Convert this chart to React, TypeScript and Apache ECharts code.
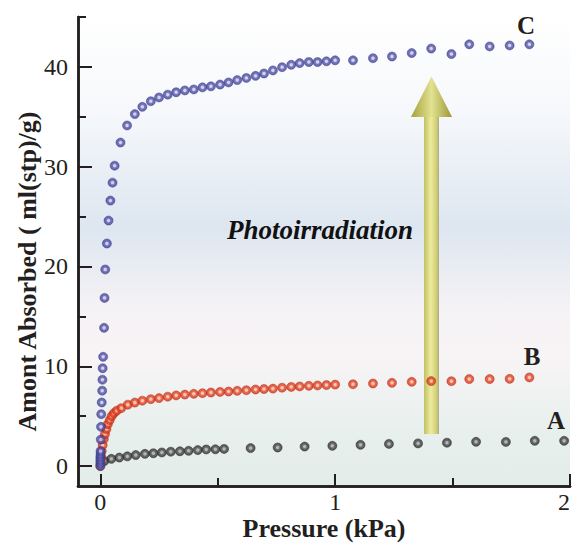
import React, { useEffect, useRef } from "react";
import * as echarts from "echarts";

// Curve A (before irradiation)
const pressureA = [0.017, 0.047, 0.081, 0.115, 0.151, 0.19, 0.226, 0.262, 0.3, 0.339, 0.376, 0.415, 0.451, 0.49, 0.527, 0.64, 0.755, 0.87, 0.988, 1.108, 1.229, 1.353, 1.476, 1.6, 1.727, 1.85, 1.975];
const amountA = [0.5, 0.72, 0.85, 0.97, 1.1, 1.22, 1.28, 1.36, 1.44, 1.48, 1.53, 1.6, 1.66, 1.68, 1.72, 1.8, 1.86, 1.95, 2.03, 2.13, 2.22, 2.27, 2.34, 2.43, 2.42, 2.53, 2.53];

// Curve B
const pressureB = [0, 0.002, 0.004, 0.006, 0.01, 0.015, 0.02, 0.026, 0.032, 0.04, 0.048, 0.058, 0.07, 0.089, 0.117, 0.147, 0.179, 0.215, 0.25, 0.287, 0.323, 0.36, 0.398, 0.435, 0.471, 0.51, 0.546, 0.583, 0.622, 0.661, 0.697, 0.735, 0.774, 0.813, 0.849, 0.888, 0.925, 0.963, 1.0, 1.076, 1.161, 1.242, 1.326, 1.409, 1.495, 1.571, 1.658, 1.743, 1.827];
const amountB = [0.0, 0.4, 0.9, 1.5, 2.1, 2.7, 3.2, 3.7, 4.2, 4.6, 5.0, 5.3, 5.55, 5.8, 6.15, 6.36, 6.55, 6.7, 6.81, 6.95, 7.08, 7.16, 7.24, 7.3, 7.37, 7.43, 7.47, 7.54, 7.6, 7.67, 7.72, 7.76, 7.85, 7.93, 7.98, 8.04, 8.08, 8.12, 8.16, 8.2, 8.27, 8.34, 8.44, 8.51, 8.5, 8.72, 8.72, 8.74, 8.88];

// Curve C (after photoirradiation)
const pressureC = [0, 0, 0, 0, 0.001, 0.001, 0.002, 0.003, 0.004, 0.006, 0.008, 0.009, 0.01, 0.012, 0.016, 0.018, 0.021, 0.028, 0.035, 0.043, 0.052, 0.061, 0.086, 0.114, 0.147, 0.179, 0.215, 0.25, 0.287, 0.323, 0.36, 0.398, 0.435, 0.471, 0.51, 0.546, 0.583, 0.622, 0.661, 0.697, 0.735, 0.774, 0.813, 0.849, 0.888, 0.925, 0.963, 1.0, 1.076, 1.161, 1.242, 1.326, 1.409, 1.495, 1.571, 1.658, 1.743, 1.827];
const amountC = [0.0, 0.3, 0.6, 0.9, 1.2, 1.5, 2.65, 3.93, 5.2, 6.37, 7.55, 8.65, 9.8, 10.95, 13.85, 16.85, 19.7, 22.3, 24.6, 26.6, 28.4, 30.1, 32.42, 34.13, 35.27, 36.0, 36.56, 36.94, 37.22, 37.46, 37.64, 37.74, 37.95, 38.05, 38.23, 38.44, 38.68, 38.89, 39.1, 39.34, 39.65, 39.97, 40.21, 40.38, 40.49, 40.49, 40.56, 40.66, 40.66, 40.87, 41.04, 41.39, 41.84, 41.29, 42.26, 42.05, 42.15, 42.26];

const xMajorTicks = [0, 1, 2];
const xMinorTicks = [0.5, 1.5];
const yMajorTicks = [0, 10, 20, 30, 40];
const yMinorTicks = [5, 15, 25, 35, 45];

const SERIF = "'Liberation Serif', 'Times New Roman', serif";
const INK = "#231f20";

const zip = (xs: number[], ys: number[]) => xs.map((x, i) => [x, ys[i]]);

const ball = (light: string, mid: string, dark: string) =>
  new echarts.graphic.RadialGradient(0.5, 0.5, 0.5, [
    { offset: 0, color: light },
    { offset: 0.25, color: light },
    { offset: 0.5, color: mid },
    { offset: 1, color: dark },
  ]);

function makeX(ticks: number[], len: number, labels: boolean): any {
  return {
    type: "value",
    min: -0.095,
    max: 2,
    position: "bottom",
    axisLine: { show: true, onZero: false, lineStyle: { color: INK, width: 2.5 } },
    axisTick: { show: true, inside: true, length: len, customValues: ticks, lineStyle: { color: INK, width: 2 } },
    axisLabel: labels
      ? { show: true, customValues: ticks, fontSize: 24, lineHeight: 20, fontFamily: SERIF, color: INK, margin: 6, hideOverlap: false, alignMaxLabel: "right" }
      : { show: false },
    splitLine: { show: false },
  };
}

function makeY(ticks: number[], len: number, labels: boolean): any {
  return {
    type: "value",
    min: -2,
    max: 45,
    position: "left",
    axisLine: { show: true, onZero: false, lineStyle: { color: INK, width: 2.5 } },
    axisTick: { show: true, inside: true, length: len, customValues: ticks, lineStyle: { color: INK, width: 2 } },
    axisLabel: labels
      ? { show: true, customValues: ticks, fontSize: 24, fontFamily: SERIF, color: INK, margin: 10 }
      : { show: false },
    splitLine: { show: false },
  };
}

export default function App() {
  const ref = useRef<HTMLDivElement>(null);
  useEffect(() => {
    document.body.style.margin = "0";
    const chart = echarts.init(ref.current!, null, { renderer: "svg" });
    const x0 = makeX(xMajorTicks, 12, true);
    x0.name = "Pressure (kPa)";
    x0.nameLocation = "middle";
    x0.nameGap = 29;
    x0.nameMoveOverlap = false;
    x0.nameTextStyle = { fontSize: 26, fontWeight: "bold", fontFamily: SERIF, color: INK, lineHeight: 26 };
    const y0 = makeY(yMajorTicks, 14, true);
    y0.name = "Amont Absorbed ( ml(stp)/g)";
    y0.nameLocation = "middle";
    y0.nameGap = 38;
    y0.nameMoveOverlap = false;
    y0.nameTextStyle = { fontSize: 26, fontWeight: "bold", fontFamily: SERIF, color: INK, padding: [0, 40, 0, 0] };

    const option: any = {
      animation: false,
      grid: {
        left: 78,
        right: 4,
        top: 17,
        bottom: 58,
        containLabel: false,
        outerBoundsMode: "none",
        show: true,
        borderWidth: 0,
        backgroundColor: new echarts.graphic.LinearGradient(0, 0, 0, 1, [
          { offset: 0, color: "#ffffff" },
          { offset: 0.2, color: "#f6f8fb" },
          { offset: 0.45, color: "#dde6f0" },
          { offset: 0.62, color: "#f5f2f5" },
          { offset: 0.72, color: "#f8f4f6" },
          { offset: 0.88, color: "#e8f0ee" },
          { offset: 1, color: "#e2ece8" },
        ]),
      },
      xAxis: [x0, makeX(xMinorTicks, 8, false)],
      yAxis: [y0, makeY(yMinorTicks, 8, false)],
      graphic: [
        {
          type: "rect",
          z: 1,
          shape: { x: 424, y: 116, width: 15, height: 318 },
          style: {
            fill: new echarts.graphic.LinearGradient(0, 0, 1, 0, [
              { offset: 0, color: "#c2bf62" },
              { offset: 0.45, color: "#ecec9e" },
              { offset: 0.85, color: "#cfcc72" },
              { offset: 1, color: "#a9a98a" },
            ]),
          },
        },
        {
          type: "polygon",
          z: 1,
          shape: { points: [[431.5, 76.5], [452, 117], [411, 117]] },
          style: {
            fill: new echarts.graphic.LinearGradient(0, 0, 1, 0, [
              { offset: 0, color: "#a6a13f" },
              { offset: 0.5, color: "#e2e290" },
              { offset: 1, color: "#9c9737" },
            ]),
          },
        },
        {
          type: "text",
          z: 3,
          x: 320,
          y: 230,
          style: {
            text: "Photoirradiation",
            fontSize: 27,
            fontWeight: "bold",
            fontStyle: "italic",
            fontFamily: SERIF,
            fill: "#111",
            align: "center",
            verticalAlign: "middle",
          },
        },
        {
          type: "text", z: 3, x: 526, y: 25,
          style: { text: "C", fontSize: 25, fontWeight: "bold", fontFamily: SERIF, fill: INK, align: "center", verticalAlign: "middle" },
        },
        {
          type: "text", z: 3, x: 532, y: 356,
          style: { text: "B", fontSize: 25, fontWeight: "bold", fontFamily: SERIF, fill: INK, align: "center", verticalAlign: "middle" },
        },
        {
          type: "text", z: 3, x: 556, y: 420,
          style: { text: "A", fontSize: 25, fontWeight: "bold", fontFamily: SERIF, fill: INK, align: "center", verticalAlign: "middle" },
        },
      ],
      series: [
        {
          name: "A",
          type: "scatter",
          z: 5,
          symbol: "circle",
          symbolSize: 9,
          data: zip(pressureA, amountA),
          itemStyle: { color: ball("#a8a8a8", "#4a4a4a", "#2a2a2a"), borderColor: "#262626", borderWidth: 0.6 },
        },
        {
          name: "B",
          type: "scatter",
          z: 5,
          symbol: "circle",
          symbolSize: 9,
          data: zip(pressureB, amountB),
          itemStyle: { color: ball("#ffbe9e", "#e8482a", "#c83018"), borderColor: "#c02c14", borderWidth: 0.6 },
        },
        {
          name: "C",
          type: "scatter",
          z: 5,
          symbol: "circle",
          symbolSize: 9,
          data: zip(pressureC, amountC),
          itemStyle: { color: ball("#cacaf0", "#5656aa", "#3e3e92"), borderColor: "#3a3a8c", borderWidth: 0.6 },
        },
      ],
    };
    chart.setOption(option);
    return () => chart.dispose();
  }, []);
  return <div ref={ref} style={{ width: 574, height: 544 }} />;
}
